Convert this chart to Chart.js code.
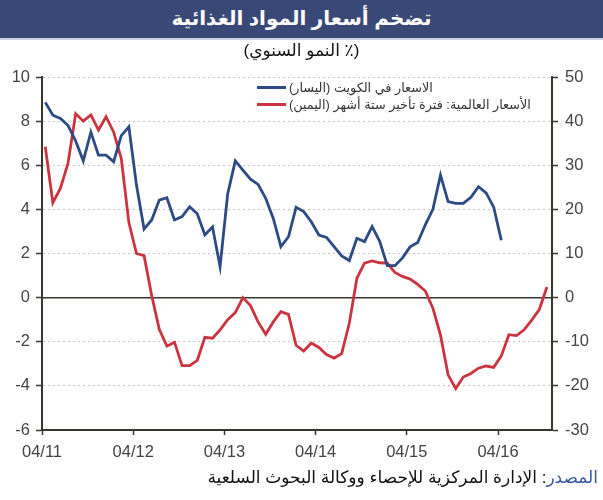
<!DOCTYPE html>
<html>
<head>
<meta charset="utf-8">
<script src="https://cdn.jsdelivr.net/npm/chart.js@4.4.1/dist/chart.umd.min.js"></script>
<style>
  html, body { margin: 0; padding: 0; background: #ffffff; }
  #wrap { position: relative; width: 603px; height: 500px; overflow: hidden; font-family: "Liberation Sans", "DejaVu Sans", sans-serif; }
  #chart { position: absolute; left: 0; top: 0; }
  #title { position: absolute; left: 0; top: 0; width: 603px; height: 38px; background: #384877; border-bottom: 2px solid #c9d0e0; color: #ffffff; font-weight: bold; font-size: 20px; line-height: 36px; text-align: center; }
  #subtitle { position: absolute; left: 0; top: 40px; width: 603px; text-align: center; font-size: 17px; color: #111; line-height: 22px; }
  #legend { position: absolute; left: 257px; top: 79px; font-size: 12.8px; color: #333; }
  .row { display: flex; align-items: center; height: 17px; }
  .swatch { width: 29px; height: 3px; margin-right: 3px; }
  #footer { position: absolute; right: 5px; top: 467px; font-size: 17px; color: #111; white-space: nowrap; }
  #footer .src { color: #3556a0; }
</style>
</head>
<body>
<div id="wrap">
  <canvas id="chart" width="603" height="500"></canvas>
  <div id="title" dir="rtl"></div>
  <div id="subtitle" dir="rtl"></div>
  <div id="legend"></div>
  <div id="footer" dir="rtl"></div>
</div>
<script>
// ---- Data ----
const titleText = "تضخم أسعار المواد الغذائية";
const subtitleText = "(٪ النمو السنوي)";
const sourceLabel = "المصدر";
const sourceText = ": الإدارة المركزية للإحصاء ووكالة البحوث السلعية";

const seriesNames = ["الاسعار في الكويت (اليسار)", "الأسعار العالمية: فترة تأخير ستة أشهر (اليمين)"];

// x tick labels (April of each year) and their month positions (months since Apr 2011)
const xTickLabels = ["04/11", "04/12", "04/13", "04/14", "04/15", "04/16"];
const xTickMonths = [0, 12, 24, 36, 48, 60];

// Kuwait food inflation, % y/y (left axis), monthly from Apr 2011
const kuwaitValues = [8.85, 8.27, 8.12, 7.8, 7.1, 6.2, 7.5, 6.46, 6.46, 6.16,
  7.34, 7.74, 5.1, 3.11, 3.52, 4.42, 4.53, 3.52, 3.67, 4.12,
  3.8, 2.84, 3.2, 1.4, 4.7, 6.2, 5.78, 5.37, 5.13, 4.5,
  3.59, 2.31, 2.76, 4.09, 3.9, 3.44, 2.84, 2.73, 2.31, 1.89,
  1.68, 2.69, 2.54, 3.22, 2.55, 1.45, 1.45, 1.8, 2.3, 2.5,
  3.3, 4.0, 5.55, 4.35, 4.27, 4.27, 4.55, 5.03, 4.75, 4.1, 2.6];

// Global food prices, six-month lag, % y/y (right axis), monthly from Apr 2011
const globalValues = [34.2, 21.5, 24.8, 30.5, 41.7, 40, 41.4, 38, 41, 37.5,
  31.5, 17, 10, 9.5, 0.5, -7.2, -11, -10.1, -15.4, -15.4,
  -14.2, -9, -9.2, -7.3, -5, -3.4, 0, -1.8, -5.5, -8.3,
  -5.5, -3.2, -3.8, -10.8, -12.1, -10.3, -11.3, -12.9, -13.7, -12.7,
  -5.8, 4.4, 7.8, 8.3, 7.9, 7.8, 5.7, 4.8, 4.2, 3,
  1.5, -2.4, -8.5, -17.5, -20.6, -18, -17.2, -16, -15.5, -15.8,
  -13.2, -8.4, -8.6, -7.3, -5.1, -2.7, 2.4];

const leftTicks = { min: -6, max: 10, step: 2 };
const rightTicks = { min: -30, max: 50, step: 10 };
const xRange = { min: 0, max: 67.1 };
const monthOffset = 0.43; // data points sit part-way into each month

const colors = { kuwait: "#2c4a84", global: "#cc3340", axis: "#3b3530", grid: "#c8c8c8", text: "#444444" };

// ---- Text ----
document.getElementById("title").textContent = titleText;
document.getElementById("subtitle").textContent = subtitleText;
const footer = document.getElementById("footer");
const s1 = document.createElement("span"); s1.className = "src"; s1.textContent = sourceLabel;
const s2 = document.createElement("span"); s2.textContent = sourceText;
footer.appendChild(s1); footer.appendChild(s2);

const legend = document.getElementById("legend");
[colors.kuwait, colors.global].forEach((c, i) => {
  const row = document.createElement("div"); row.className = "row";
  const sw = document.createElement("span"); sw.className = "swatch"; sw.style.background = c;
  const tx = document.createElement("span"); tx.dir = "rtl"; tx.textContent = seriesNames[i];
  row.appendChild(sw); row.appendChild(tx); legend.appendChild(row);
});

// ---- Chart ----
const toPoints = arr => arr.map((v, i) => ({ x: i + monthOffset, y: v }));

const zeroLine = {
  id: "zeroLine",
  beforeDatasetsDraw(chart) {
    const y = chart.scales.y.getPixelForValue(0);
    const a = chart.chartArea;
    const ctx = chart.ctx;
    ctx.save();
    ctx.strokeStyle = colors.axis;
    ctx.lineWidth = 1.5;
    ctx.beginPath();
    ctx.moveTo(a.left, y);
    ctx.lineTo(a.right, y);
    ctx.stroke();
    ctx.restore();
  }
};

const tickFont = { family: "'Liberation Sans', 'DejaVu Sans', sans-serif", size: 16.5 };

new Chart(document.getElementById("chart"), {
  type: "line",
  data: {
    datasets: [
      { label: seriesNames[0], data: toPoints(kuwaitValues), yAxisID: "y", borderColor: colors.kuwait, borderWidth: 2.8, pointRadius: 0, tension: 0 },
      { label: seriesNames[1], data: toPoints(globalValues), yAxisID: "y1", borderColor: colors.global, borderWidth: 2.8, pointRadius: 0, tension: 0 }
    ]
  },
  options: {
    responsive: false,
    animation: false,
    devicePixelRatio: 1,
    layout: { padding: { top: 77, bottom: 40, left: 0, right: 0 } },
    plugins: { legend: { display: false }, tooltip: { enabled: false }, title: { display: false } },
    scales: {
      x: {
        type: "linear",
        min: xRange.min,
        max: xRange.max,
        afterBuildTicks: s => { s.ticks = xTickMonths.map(v => ({ value: v })); },
        afterFit: s => { s.height = 30; },
        ticks: { autoSkip: false, maxRotation: 0, padding: 8, color: colors.text, font: tickFont,
          callback: (v, i) => xTickLabels[i] },
        grid: { drawOnChartArea: false, drawTicks: true, tickLength: 5, tickColor: colors.axis, tickWidth: 1.5, color: colors.axis },
        border: { display: true, color: colors.axis, width: 2 }
      },
      y: {
        position: "left",
        min: leftTicks.min,
        max: leftTicks.max,
        afterFit: s => { s.width = 42; },
        ticks: { stepSize: leftTicks.step, padding: 6, color: colors.text, font: tickFont },
        grid: {
          drawOnChartArea: true,
          color: c => (c.tick && (c.tick.value === 0 || c.tick.value === leftTicks.min)) ? "rgba(0,0,0,0)" : colors.grid,
          lineWidth: 1,
          tickLength: 6, tickColor: colors.axis, tickWidth: 1.5
        },
        border: { display: true, color: colors.axis, width: 2, dash: [2, 3] }
      },
      y1: {
        position: "right",
        min: rightTicks.min,
        max: rightTicks.max,
        afterFit: s => { s.width = 51; },
        ticks: { stepSize: rightTicks.step, padding: 7, color: colors.text, font: tickFont },
        grid: { drawOnChartArea: false, tickLength: 6, tickColor: colors.axis, tickWidth: 1.5 },
        border: { display: true, color: colors.axis, width: 2 }
      }
    }
  },
  plugins: [zeroLine]
});
</script>
</body>
</html>
